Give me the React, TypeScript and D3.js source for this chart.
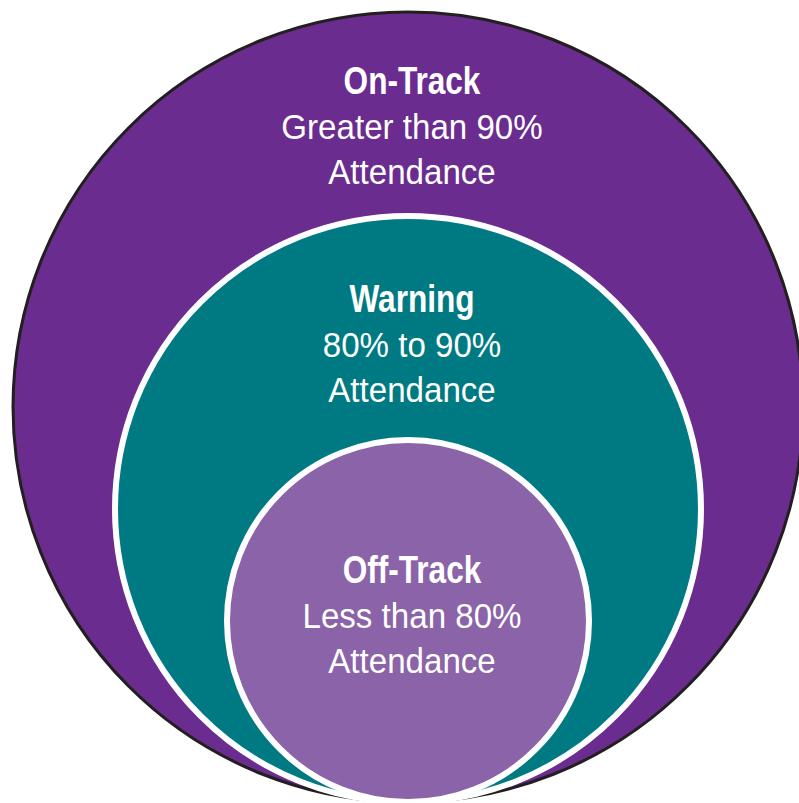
import React from "react";
import { scaleOrdinal } from "d3";

const levels = ["On-Track", "Warning", "Off-Track"];
const ranges = ["Greater than 90%", "80% to 90%", "Less than 80%"];
const subtitle = "Attendance";

// ring geometry: radius + where the title baseline sits
const rings = [
  { r: 395, titleY: 94 },
  { r: 293, titleY: 312 },
  { r: 181, titleY: 583 },
];

const fill = scaleOrdinal<string, string>()
  .domain(levels)
  .range(["#6a2c8f", "#007a82", "#8a63a8"]);

const stroke = scaleOrdinal<string, string>()
  .domain(levels)
  .range(["#231f20", "#ffffff", "#ffffff"]);

const W = 799;
const H = 803;
const cx = 408;
const tx = 412;
const bottom = 802;
const font = "'Liberation Sans', Arial, sans-serif";

export default function App() {
  return (
    <svg
      width={W}
      height={H}
      style={{ position: "absolute", left: 0, top: 0, background: "#fff" }}
    >
      {levels.map((lv, i) => {
        const { r } = rings[i];
        return (
          <circle
            key={lv}
            cx={cx}
            cy={bottom - r}
            r={r}
            fill={fill(lv)}
            stroke={stroke(lv)}
            strokeWidth={i === 0 ? 3 : 6}
          />
        );
      })}
      {levels.map((lv, i) => {
        const y = rings[i].titleY;
        return (
          <g key={lv + "-t"} fill="#fff" textAnchor="middle" fontFamily={font}>
            {/* condensed look: squeeze horizontally around the centre line */}
            <g transform={`translate(${tx},0) scale(0.81,1)`}>
              <text x={0} y={y} fontSize={39} fontWeight="bold">
                {lv}
              </text>
            </g>
            <g transform={`translate(${tx},0) scale(0.92,1)`}>
              <text x={0} y={y + 45} fontSize={36}>
                {ranges[i]}
              </text>
              <text x={0} y={y + 90} fontSize={36}>
                {subtitle}
              </text>
            </g>
          </g>
        );
      })}
    </svg>
  );
}
